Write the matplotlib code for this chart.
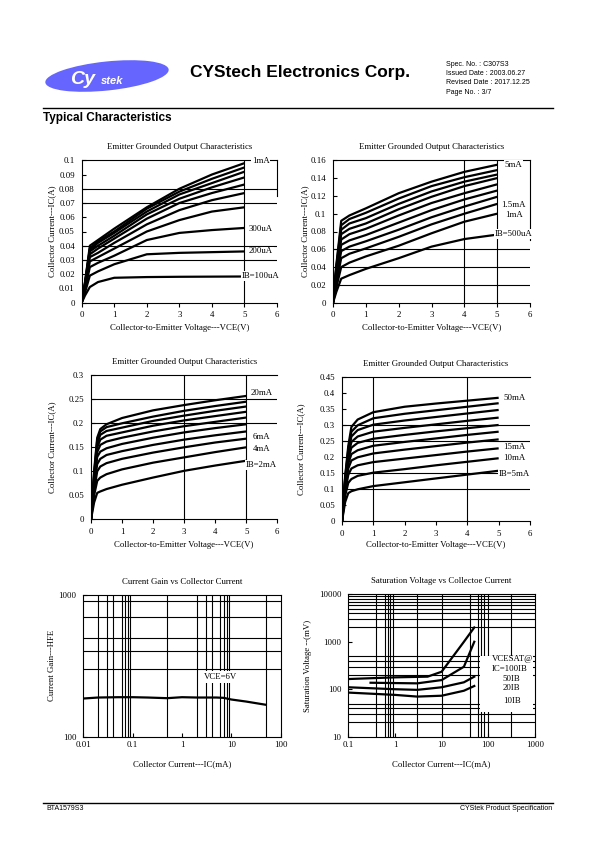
import matplotlib
matplotlib.use("Agg")
import matplotlib.pyplot as plt
from matplotlib.patches import Ellipse, Rectangle
import numpy as np

# ---------------- data ----------------
# Chart 1: IB = 100uA .. 1mA
vce1 = [0, 0.1, 0.25, 0.5, 1, 2, 3, 4, 5]
ic1 = [
    [0, 0.005, 0.011, 0.0145, 0.0175, 0.018, 0.0182, 0.0183, 0.0184],
    [0, 0.007, 0.019, 0.022, 0.027, 0.034, 0.035, 0.0355, 0.036],
    [0, 0.009, 0.025, 0.028, 0.033, 0.044, 0.049, 0.051, 0.0525],
    [0, 0.010, 0.029, 0.032, 0.038, 0.050, 0.058, 0.064, 0.067],
    [0, 0.011, 0.032, 0.035, 0.042, 0.055, 0.065, 0.072, 0.077],
    [0, 0.012, 0.034, 0.038, 0.045, 0.059, 0.070, 0.077, 0.083],
    [0, 0.013, 0.036, 0.040, 0.047, 0.062, 0.073, 0.081, 0.088],
    [0, 0.013, 0.037, 0.042, 0.049, 0.064, 0.076, 0.084, 0.092],
    [0, 0.014, 0.038, 0.043, 0.050, 0.066, 0.078, 0.087, 0.095],
    [0, 0.014, 0.040, 0.044, 0.052, 0.067, 0.080, 0.090, 0.098],
]
lab1 = ["1mA", "300uA", "200uA", "IB=100uA"]
laby1 = [0.0995, 0.052, 0.036, 0.0185]

# Chart 2: IB = 500uA .. 5mA
vce2 = [0, 0.1, 0.25, 0.5, 1, 2, 3, 4, 5]
ic2 = [
    [0, 0.012, 0.027, 0.031, 0.038, 0.050, 0.063, 0.0715, 0.0765],
    [0, 0.017, 0.040, 0.045, 0.052, 0.064, 0.078, 0.091, 0.100],
    [0, 0.022, 0.050, 0.055, 0.061, 0.074, 0.088, 0.100, 0.111],
    [0, 0.026, 0.058, 0.063, 0.069, 0.082, 0.096, 0.108, 0.119],
    [0, 0.030, 0.065, 0.070, 0.076, 0.090, 0.104, 0.116, 0.126],
    [0, 0.033, 0.071, 0.077, 0.083, 0.098, 0.112, 0.123, 0.133],
    [0, 0.036, 0.077, 0.083, 0.089, 0.105, 0.119, 0.131, 0.140],
    [0, 0.038, 0.082, 0.089, 0.095, 0.111, 0.125, 0.136, 0.144],
    [0, 0.040, 0.087, 0.094, 0.101, 0.117, 0.131, 0.141, 0.149],
    [0, 0.042, 0.092, 0.098, 0.106, 0.123, 0.136, 0.147, 0.155],
]
lab2 = ["5mA", "1.5mA", "1mA", "IB=500uA"]
laby2 = [0.155, 0.110, 0.099, 0.077]

# Chart 3: IB = 2mA .. 20mA
vce3 = [0, 0.1, 0.2, 0.3, 0.5, 1, 2, 3, 4, 5]
ic3 = [
    [0, 0.035, 0.055, 0.058, 0.063, 0.072, 0.087, 0.101, 0.112, 0.122],
    [0, 0.050, 0.080, 0.087, 0.094, 0.104, 0.118, 0.129, 0.140, 0.150],
    [0, 0.060, 0.100, 0.110, 0.117, 0.126, 0.139, 0.150, 0.160, 0.168],
    [0, 0.070, 0.115, 0.126, 0.134, 0.142, 0.155, 0.166, 0.175, 0.183],
    [0, 0.075, 0.130, 0.141, 0.148, 0.157, 0.170, 0.181, 0.190, 0.198],
    [0, 0.080, 0.140, 0.155, 0.162, 0.170, 0.183, 0.194, 0.203, 0.212],
    [0, 0.085, 0.150, 0.166, 0.174, 0.181, 0.195, 0.206, 0.215, 0.224],
    [0, 0.090, 0.158, 0.176, 0.184, 0.191, 0.205, 0.216, 0.226, 0.235],
    [0, 0.095, 0.165, 0.183, 0.192, 0.200, 0.214, 0.226, 0.236, 0.245],
    [0, 0.100, 0.170, 0.188, 0.198, 0.211, 0.227, 0.238, 0.248, 0.257],
]
lab3 = ["20mA", "6mA", "4mA", "IB=2mA"]
laby3 = [0.264, 0.171, 0.147, 0.113]

# Chart 4: IB = 5mA .. 50mA
vce4 = [0, 0.1, 0.2, 0.3, 0.5, 1, 2, 3, 4, 5]
ic4 = [
    [0, 0.060, 0.088, 0.094, 0.100, 0.110, 0.122, 0.134, 0.146, 0.158],
    [0, 0.080, 0.120, 0.132, 0.142, 0.152, 0.163, 0.175, 0.186, 0.197],
    [0, 0.090, 0.145, 0.165, 0.175, 0.185, 0.196, 0.207, 0.218, 0.228],
    [0, 0.100, 0.165, 0.190, 0.200, 0.212, 0.224, 0.235, 0.246, 0.256],
    [0, 0.110, 0.180, 0.210, 0.222, 0.236, 0.248, 0.259, 0.270, 0.280],
    [0, 0.120, 0.195, 0.230, 0.245, 0.258, 0.270, 0.281, 0.291, 0.301],
    [0, 0.125, 0.205, 0.248, 0.265, 0.280, 0.292, 0.303, 0.314, 0.324],
    [0, 0.130, 0.215, 0.265, 0.285, 0.302, 0.315, 0.326, 0.337, 0.348],
    [0, 0.135, 0.225, 0.280, 0.300, 0.322, 0.336, 0.347, 0.358, 0.369],
    [0, 0.140, 0.235, 0.295, 0.318, 0.341, 0.358, 0.368, 0.377, 0.386],
]
lab4 = ["50mA", "15mA", "10mA", "IB=5mA"]
laby4 = [0.384, 0.231, 0.197, 0.148]

# Chart 5: hFE vs IC
ic5 = [0.01, 0.02, 0.05, 0.1, 0.2, 0.5, 1, 2, 5, 7, 10, 20, 50]
hfe5 = [186, 189, 190, 190, 189, 187, 190, 189, 189, 188, 183, 177, 168]

# Chart 6: VCE(sat) vs IC
ic6_100 = [0.1, 1, 5, 10, 30, 50]
vs6_100 = [164, 178, 184, 234, 1000, 2000]
ic6_50 = [0.3, 3, 10, 30, 50]
vs6_50 = [137, 133, 156, 298, 1000]
ic6_20 = [0.1, 1, 3, 10, 30, 50]
vs6_20 = [110, 100, 97, 110, 140, 184]
ic6_10 = [0.1, 1, 3, 10, 30, 50]
vs6_10 = [85, 76, 70, 73, 93, 117]
lab6 = ["VCESAT@", "IC=100IB", "50IB", "20IB", "10IB"]

# ---------------- figure ----------------
W, H = 595, 842
fig = plt.figure(figsize=(W / 100, H / 100), dpi=100)
SERIF = ["Liberation Serif", "DejaVu Serif"]
SANS = ["Liberation Sans", "DejaVu Sans"]
FS = 6.3


def px_axes(l, t, r, b):
    ax = fig.add_axes([l / W, 1 - b / H, (r - l) / W, (b - t) / H])
    ax._px = (l, t, r, b)
    return ax


def style(ax, title, xl, yl, ylx, xly):
    l, t, r, b = ax._px
    ax.set_title(title, fontsize=FS, family=SERIF, pad=8)
    ax.set_xlabel(xl, fontsize=FS, family=SERIF)
    ax.set_ylabel(yl, fontsize=FS, family=SERIF)
    ax.yaxis.set_label_coords((ylx - l) / (r - l), 0.5)
    ax.xaxis.set_label_coords(0.5, (b - xly) / (b - t))
    ax.xaxis.label.set_va("center")
    ax.yaxis.label.set_va("center")
    for s in ax.spines.values():
        s.set_linewidth(0.8)
    ax.tick_params(axis="x", direction="out", length=3, width=0.8, labelsize=FS, pad=3)
    ax.tick_params(axis="y", direction="in", length=3, width=0.8, labelsize=FS, pad=5)
    for lbl in ax.get_xticklabels() + ax.get_yticklabels():
        lbl.set_family(SERIF)


def output_chart(ax, vce, ics, labs, labys, ymax, ystep, hlines, vlines, rseg):
    for c in ics:
        ax.plot(vce, c, color="black", lw=1.6, zorder=4, solid_capstyle="butt")
    ax.set_xlim(0, 6)
    ax.set_ylim(0, ymax)
    ax.set_xticks(range(0, 7))
    ax.set_yticks(np.arange(0, ymax + ystep / 2, ystep))
    ax.set_yticklabels([("%g" % v) for v in np.arange(0, ymax + ystep / 2, ystep)])
    for h in hlines:
        ax.axhline(h, color="black", lw=0.8, zorder=1)
    for v in vlines:
        ax.axvline(v, color="black", lw=0.8, zorder=1)
    ax.spines["right"].set_visible(False)
    if rseg is not None:
        ax.plot([6, 6], [rseg, ymax], color="black", lw=0.8, clip_on=False, zorder=2)
    for t, y in zip(labs, labys):
        ax.text(5.5, y, t, ha="center", va="center", fontsize=FS, family=SERIF,
                zorder=6, bbox=dict(facecolor="white", edgecolor="none", pad=0.6))


XL = "Collector-to-Emitter Voltage---VCE(V)"
YL = "Collector Current---IC(A)"
T1 = "Emitter Grounded Output Characteristics"

ax1 = px_axes(81.7, 160.3, 277, 302.7)
output_chart(ax1, vce1, ic1, lab1, laby1, 0.1, 0.01, [0.03, 0.04, 0.07, 0.08], [5], 0.075)
style(ax1, T1, XL, YL, 52, 328)

ax2 = px_axes(333, 160.3, 530, 302.7)
output_chart(ax2, vce2, ic2, lab2, laby2, 0.16, 0.02, [0.02, 0.04, 0.06], [4, 5], 0.07)
style(ax2, T1, XL, YL, 305, 328)

ax3 = px_axes(91, 375.3, 277.3, 519.3)
output_chart(ax3, vce3, ic3, lab3, laby3, 0.3, 0.05, [0.2, 0.25], [3, 5], None)
style(ax3, T1, XL, YL, 52, 545)

ax4 = px_axes(342, 377.3, 530, 521.3)
output_chart(ax4, vce4, ic4, lab4, laby4, 0.45, 0.05, [0.1, 0.15, 0.25, 0.3], [1, 4], None)
style(ax4, T1, XL, YL, 301, 545)

# Chart 5
ax5 = px_axes(83.3, 595, 280.7, 736.7)
ax5.set_xscale("log")
ax5.set_yscale("log")
ax5.set_xlim(0.01, 100)
ax5.set_ylim(100, 1000)
for v in [0.02, 0.03, 0.04, 0.06, 0.07, 0.08, 0.09, 0.5, 2, 3, 4, 6, 7, 8, 9, 50]:
    ax5.axvline(v, color="black", lw=0.8, zorder=1)
for h in [300, 400, 500, 700, 900]:
    ax5.axhline(h, color="black", lw=0.8, zorder=1)
ax5.plot(ic5, hfe5, color="black", lw=1.6, zorder=4)
ax5.set_xticks([0.01, 0.1, 1, 10, 100])
ax5.set_xticklabels(["0.01", "0.1", "1", "10", "100"])
ax5.set_yticks([100, 1000])
ax5.set_yticklabels(["100", "1000"])
ax5.minorticks_off()
ax5.text(5.9, 265, "VCE=6V", ha="center", va="center", fontsize=FS, family=SERIF,
         zorder=6, bbox=dict(facecolor="white", edgecolor="none", pad=1.5))
style(ax5, "Current Gain vs Collector Current", "Collector Current---IC(mA)",
      "Current Gain---HFE", 52, 764)
ax5.tick_params(axis="x", direction="in")

# Chart 6
ax6 = px_axes(348.3, 594.3, 535, 736.7)
ax6.set_xscale("log")
ax6.set_yscale("log")
ax6.set_xlim(0.1, 1000)
ax6.set_ylim(10, 10000)
for v in [0.4, 0.6, 0.7, 0.8, 0.9, 3, 10, 40, 60, 70, 80, 100, 300]:
    ax6.axvline(v, color="black", lw=0.8, zorder=1)
for h in [20, 30, 40, 50, 200, 300, 400, 500, 2000, 3000, 4000, 5000, 6000, 7000, 8000, 9000]:
    ax6.axhline(h, color="black", lw=0.8, zorder=1)
ax6.add_patch(Rectangle((0.705, 0.17), 0.285, 0.40, transform=ax6.transAxes,
                        facecolor="white", edgecolor="none", zorder=3))
for xs, ys in [(ic6_100, vs6_100), (ic6_50, vs6_50), (ic6_20, vs6_20), (ic6_10, vs6_10)]:
    ax6.plot(xs, ys, color="black", lw=1.6, zorder=4)
ax6.set_xticks([0.1, 1, 10, 100, 1000])
ax6.set_xticklabels(["0.1", "1", "10", "100", "1000"])
ax6.set_yticks([10, 100, 1000, 10000])
ax6.set_yticklabels(["10", "100", "1000", "10000"])
ax6.minorticks_off()
for t, x, y, ha in [(lab6[0], 120, 430, "left"), (lab6[1], 120, 264, "left"),
                    (lab6[2], 316, 165, "center"), (lab6[3], 316, 105, "center"),
                    (lab6[4], 316, 57, "center")]:
    ax6.text(x, y, t, ha=ha, va="center", fontsize=FS, family=SERIF, zorder=6)
style(ax6, "Saturation Voltage vs Collectoe Current", "Collector Current---IC(mA)",
      "Saturation Voltage --(mV)", 308, 764)
ax6.tick_params(axis="x", direction="in")

# ---------------- header / footer ----------------
ov = fig.add_axes([0, 0, 1, 1], zorder=-1)
ov.set_xlim(0, W)
ov.set_ylim(H, 0)
ov.axis("off")
ov.add_patch(Ellipse((107, 76), 124, 29, angle=-6, facecolor="#6666ff", edgecolor="none"))
ov.text(83, 79, "Cy", color="white", fontsize=14, fontweight="bold", style="italic",
        family=SANS, ha="center", va="center")
ov.text(112, 81, "stek", color="white", fontsize=8, fontweight="bold", style="italic",
        family=SANS, ha="center", va="center")
ov.text(300, 72, "CYStech Electronics Corp.", fontsize=12.5, fontweight="bold",
        family=SANS, ha="center", va="center")
for i, t in enumerate(["Spec. No. : C307S3", "Issued Date : 2003.06.27",
                       "Revised Date : 2017.12.25", "Page No. : 3/7"]):
    ov.text(446, 64 + i * 9.5, t, fontsize=5, family=SANS, ha="left", va="center")
ov.plot([43, 553], [108, 108], color="black", lw=1.0)
ov.text(43, 118, "Typical Characteristics", fontsize=8.5, fontweight="bold",
        family=SANS, ha="left", va="center")
ov.plot([43, 553], [803, 803], color="black", lw=1.0)
ov.text(46, 808, "BTA1579S3", fontsize=5, family=SANS, ha="left", va="center")
ov.text(552, 808, "CYStek Product Specification", fontsize=5, family=SANS,
        ha="right", va="center")

fig.savefig("out.png", dpi=100)
